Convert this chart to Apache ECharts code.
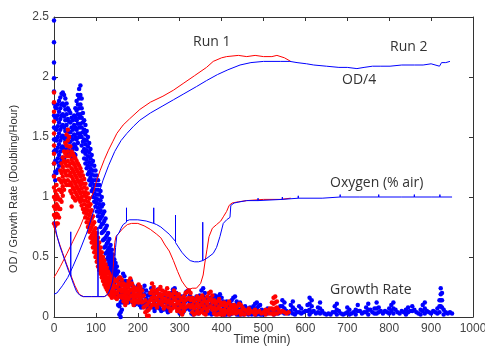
<!DOCTYPE html>
<html><head><meta charset="utf-8">
<script src="https://cdn.jsdelivr.net/npm/echarts@6/dist/echarts.min.js"></script>
<style>html,body{margin:0;padding:0;background:#fff}#c{width:485px;height:347px}</style>
</head><body><div id="c"></div>
<script>
// Axis settings
const xMin = 0, xMax = 1000, xStep = 100;
const yMin = 0, yMax = 2.5, yStep = 0.5;
const xTitle = 'Time (min)';
const yTitle = 'OD / Growth Rate (Doubling/Hour)';
const notes = ['Run 1', 'Run 2', 'OD/4', 'Oxygen (% air)', 'Growth Rate'];

// OD/4 curves [time, value]
const odRun1 = [[0,0.33],[7,0.37],[15,0.42],[31,0.53],[45,0.63],[62,0.75],[75,0.86],[86,0.97],[95,1.05],[102,1.14],[110,1.22],[120,1.31],[130,1.39],[140,1.46],[150,1.53],[165,1.6],[180,1.65],[205,1.73],[230,1.79],[260,1.84],[285,1.89],[310,1.95],[335,2.01],[364,2.08],[380,2.13],[400,2.16],[412,2.17],[440,2.18],[460,2.17],[480,2.18],[500,2.17],[520,2.17],[532,2.18],[550,2.16],[565,2.13]];
const odRun2 = [[0,0.19],[7,0.2],[20,0.26],[33,0.33],[45,0.42],[60,0.54],[78,0.7],[90,0.83],[102,0.97],[110,1.06],[117,1.14],[130,1.26],[145,1.38],[160,1.47],[174,1.53],[190,1.59],[205,1.64],[230,1.7],[260,1.76],[285,1.81],[310,1.86],[340,1.92],[364,1.97],[390,2.02],[415,2.06],[444,2.1],[470,2.12],[500,2.13],[540,2.13],[563,2.13],[580,2.12],[603,2.11],[620,2.1],[650,2.09],[680,2.08],[700,2.08],[723,2.07],[740,2.08],[760,2.09],[780,2.09],[802,2.09],[830,2.1],[860,2.1],[881,2.1],[900,2.11],[920,2.09],[925,2.12],[935,2.12],[945,2.13]];

// Oxygen curves [time, value]
const o2Run1 = [[0,0.75],[10,0.64],[20,0.54],[30,0.44],[40,0.35],[50,0.26],[60,0.19],[70,0.17],[90,0.17],[110,0.17],[120,0.17],[125,0.18],[130,0.2],[135,0.25],[140,0.33],[143,0.5],[145,0.62],[148,0.67],[155,0.7],[165,0.74],[175,0.77],[185,0.78],[200,0.78],[215,0.76],[230,0.73],[245,0.69],[255,0.66],[265,0.6],[275,0.55],[285,0.47],[295,0.38],[305,0.3],[315,0.25],[322,0.23],[330,0.24],[340,0.24],[350,0.28],[356,0.35],[360,0.45],[365,0.56],[370,0.67],[378,0.74],[388,0.77],[398,0.8],[405,0.84],[412,0.88],[418,0.93],[425,0.95],[440,0.96],[460,0.97],[500,0.98],[540,0.98],[565,0.99]];
const o2Run2 = [[0,0.8],[7,0.68],[14,0.59],[20,0.53],[27,0.46],[34,0.39],[40,0.34],[40,0.71],[40,0.34],[47,0.27],[54,0.21],[62,0.18],[70,0.17],[90,0.17],[105,0.17],[105,0.75],[105,0.17],[115,0.17],[120,0.17],[125,0.18],[130,0.2],[135,0.24],[140,0.3],[144,0.42],[147,0.58],[150,0.68],[155,0.7],[160,0.74],[165,0.77],[173,0.79],[173,0.91],[173,0.8],[180,0.81],[200,0.81],[220,0.8],[238,0.78],[238,0.91],[238,0.78],[245,0.77],[255,0.75],[265,0.72],[275,0.69],[290,0.63],[290,0.85],[290,0.62],[305,0.54],[315,0.5],[325,0.47],[335,0.46],[345,0.46],[355,0.47],[355,0.79],[355,0.47],[365,0.49],[380,0.53],[388,0.58],[396,0.67],[404,0.78],[412,0.81],[420,0.83],[422,0.93],[430,0.95],[444,0.96],[460,0.97],[487,0.97],[487,0.99],[487,0.97],[545,0.98],[545,1.0],[545,0.98],[583,0.99],[583,1.01],[583,0.99],[640,0.99],[683,1.0],[683,1.02],[683,1.0],[730,1.0],[775,1.0],[775,1.02],[775,1.0],[830,1.0],[860,1.0],[860,1.02],[860,1.0],[900,1.0],[921,1.0],[921,1.02],[921,1.0],[950,1.0]];

// Growth rate: each row = [time, y1, y2, ...]
const growthRun1 = [
[0,1.87,1.79,1.71,1.63,1.53,1.43,1.36,1.28,1.17,1.08,1.0,0.92,0.85,0.78],
[3,1.05,0.98,0.9,0.83,0.76],[6,1.1,1.02,0.94,0.86,0.78],[9,1.0,0.92,0.85,0.78],[12,1.15,1.06,0.98,0.9,0.83],
[15,1.22,1.14,1.06,0.98,0.9],[18,1.28,1.2,1.12,1.04,0.96],[21,1.33,1.25,1.17,1.09,1.01],[24,1.38,1.3,1.22,1.14,1.06],
[27,1.45,1.36,1.28,1.2,1.12],[30,1.52,1.43,1.34,1.26,1.18,1.1],[33,1.56,1.47,1.38,1.3,1.22,1.14],[36,1.5,1.42,1.34,1.26,1.18,1.1],
[39,1.42,1.35,1.28,1.2,1.12,1.05],[42,1.38,1.31,1.24,1.17,1.1,1.03,0.92],[45,1.36,1.29,1.22,1.15,1.08,1.0],[48,1.34,1.27,1.2,1.13,1.06,0.99],
[51,1.32,1.25,1.18,1.11,1.04,0.97],[54,1.3,1.23,1.16,1.09,1.02],[57,1.28,1.21,1.14,1.07,1.0],[60,1.26,1.19,1.12,1.05,0.98],
[63,1.24,1.17,1.1,1.03,0.96],[66,1.21,1.14,1.07,1.0,0.93],[69,1.18,1.11,1.04,0.97,0.9],[72,1.15,1.08,1.01,0.94,0.87],
[75,1.11,1.04,0.97,0.9,0.83],[78,1.07,1.0,0.93,0.86,0.79],[81,1.03,0.96,0.89,0.82,0.75],[84,0.99,0.92,0.85,0.78,0.71],
[87,0.94,0.87,0.8,0.73,0.66],[90,0.89,0.82,0.75,0.68,0.62],[93,0.84,0.77,0.7,0.64,0.58],[96,0.79,0.72,0.66,0.6,0.54],
[99,0.74,0.68,0.62,0.56,0.5],[102,0.7,0.64,0.58,0.52,0.46],[105,0.66,0.6,0.54,0.48,0.42],[108,0.62,0.56,0.5,0.44,0.39],
[111,0.58,0.52,0.46,0.41,0.36],[114,0.54,0.48,0.43,0.38,0.33],[117,0.5,0.45,0.4,0.35,0.3],[120,0.47,0.42,0.37,0.32,0.27],
[123,0.44,0.39,0.34,0.29,0.25],[126,0.41,0.36,0.31,0.27,0.23],[129,0.38,0.33,0.29,0.25,0.21],[132,0.36,0.31,0.27,0.23,0.19],
[135,0.34,0.3,0.26,0.22,0.18],[138,0.33,0.28,0.24,0.2,0.16],[141,0.32,0.27,0.22,0.18],[144,0.31,0.26,0.21,0.17],
[147,0.3,0.25,0.2,0.16],[150,0.3,0.25,0.2,0.15],[154,0.32,0.27,0.22,0.17],[158,0.33,0.28,0.23,0.18],[162,0.31,0.26,0.21,0.16],
[166,0.28,0.23,0.18,0.13],[170,0.25,0.2,0.15,0.1],[174,0.27,0.22,0.17,0.12],[178,0.3,0.25,0.2,0.15],[182,0.32,0.27,0.22,0.17],
[186,0.28,0.23,0.18,0.13],[190,0.25,0.2,0.15,0.1],[194,0.22,0.17,0.12],[198,0.24,0.19,0.14],[202,0.27,0.22,0.17,0.12],
[206,0.25,0.2,0.15],[210,0.22,0.17,0.12],[214,0.18,0.13,0.08],[218,0.14,0.09,0.04],[222,0.1,0.05,0.01],[226,0.12,0.06,0.01],
[230,0.2,0.14,0.08],[234,0.28,0.22,0.16,0.1],[238,0.25,0.19,0.13],[242,0.22,0.16,0.1],[246,0.2,0.14,0.08],[250,0.23,0.17,0.11],
[254,0.25,0.19,0.13],[258,0.22,0.16,0.1],[262,0.19,0.13,0.07],[266,0.21,0.15,0.09],[270,0.24,0.18,0.12],[274,0.2,0.14,0.08],
[278,0.17,0.11,0.05],[282,0.19,0.13,0.07],[286,0.22,0.16,0.1],[290,0.2,0.14,0.08],[294,0.17,0.11,0.05],[298,0.19,0.13,0.07],
[302,0.16,0.1,0.04],[306,0.14,0.08,0.02],[310,0.17,0.11,0.05],[314,0.2,0.14,0.08],[318,0.21,0.15,0.09],[322,0.22,0.16,0.1],
[326,0.2,0.14,0.08],[330,0.16,0.1,0.04],[334,0.13,0.07,0.02],[338,0.15,0.09,0.03],[342,0.17,0.11,0.05],[346,0.14,0.08,0.03],
[350,0.16,0.1,0.04],[354,0.18,0.12,0.06],[358,0.15,0.09,0.03],[362,0.13,0.07,0.02],[366,0.17,0.11,0.05],[370,0.2,0.14,0.08],
[374,0.21,0.15,0.09],[378,0.18,0.12,0.06],[382,0.14,0.08,0.03],[386,0.11,0.06,0.02],[390,0.13,0.07,0.02],[394,0.15,0.09,0.03],
[398,0.12,0.06,0.02],[402,0.1,0.05,0.02],[406,0.12,0.06,0.02],[410,0.09,0.04],[414,0.11,0.05],[418,0.13,0.07,0.02],
[422,0.1,0.05],[426,0.08,0.03],[430,0.1,0.05],[434,0.07,0.03],[438,0.09,0.04],[442,0.11,0.05],[446,0.1,0.05,0.02],
[450,0.08,0.03],[455,0.06,0.02],[460,0.05],[465,0.07,0.03],[470,0.05],[475,0.04],[480,0.06,0.02],[485,0.04],[490,0.05],
[495,0.03],[500,0.04],[505,0.06,0.02],[510,0.05],[515,0.07,0.03],[520,0.12,0.07,0.03],[524,0.16,0.11,0.06,0.02],
[528,0.17,0.12,0.07,0.03],[532,0.13,0.08,0.03],[536,0.06],[540,0.04],[545,0.05],[550,0.04],[555,0.03],[560,0.04]
];
const growthRun2 = [
[0,2.47,2.29,2.12,1.99,1.88,1.78,1.68,1.58,1.48,1.38,1.28,1.18],
[3,1.75,1.66,1.57,1.48,1.39,1.3,1.21,1.14],[6,1.74,1.65,1.56,1.47,1.38,1.29,1.2],[9,1.77,1.68,1.59,1.5,1.41,1.32,1.23],
[12,1.8,1.71,1.62,1.53,1.44,1.35,1.26],[15,1.83,1.74,1.65,1.56,1.47,1.38,1.29],[18,1.86,1.77,1.68,1.59,1.5,1.41,1.32],
[21,1.87,1.78,1.69,1.6,1.51,1.42,1.33],[24,1.85,1.76,1.67,1.58,1.49,1.4,1.32],[27,1.82,1.73,1.64,1.55,1.46,1.38],
[30,1.78,1.69,1.6,1.51,1.43,1.36],[33,1.74,1.65,1.56,1.48,1.4],[36,1.72,1.63,1.54,1.46,1.38],[39,1.7,1.62,1.54,1.46,1.38],
[42,1.66,1.58,1.5,1.42,1.35],[45,1.64,1.56,1.48,1.4,1.33],[48,1.68,1.6,1.52,1.44,1.36],[51,1.74,1.66,1.58,1.5,1.42,1.35],
[54,1.8,1.72,1.64,1.56,1.48,1.4],[57,1.85,1.77,1.69,1.61,1.53,1.45],[60,1.9,1.82,1.74,1.66,1.58,1.5],[63,1.93,1.85,1.77,1.69,1.61,1.53],
[66,1.82,1.74,1.66,1.58,1.5,1.43],[69,1.7,1.62,1.54,1.46,1.38],[72,1.64,1.56,1.48,1.4,1.32],[75,1.6,1.52,1.44,1.36,1.28],
[78,1.55,1.47,1.39,1.31,1.24],[81,1.5,1.42,1.34,1.26,1.19],[84,1.45,1.37,1.29,1.21,1.14],[87,1.4,1.32,1.24,1.16,1.1],
[90,1.35,1.27,1.19,1.12,1.05],[93,1.3,1.22,1.14,1.07,1.0],[96,1.26,1.18,1.1,1.03,0.96],[99,1.22,1.14,1.06,0.99,0.92],
[102,1.18,1.1,1.02,0.95,0.88],[105,1.14,1.06,0.98,0.91,0.84],[108,1.1,1.02,0.94,0.87,0.8],[111,1.05,0.97,0.89,0.82,0.75],
[114,1.0,0.92,0.84,0.77,0.7],[117,0.94,0.86,0.78,0.71,0.64],[120,0.88,0.8,0.72,0.65,0.58],[123,0.82,0.74,0.66,0.59,0.53],
[126,0.76,0.68,0.61,0.54,0.48],[129,0.7,0.63,0.56,0.5,0.44],[132,0.65,0.58,0.52,0.46,0.4],[135,0.6,0.54,0.48,0.42,0.37],
[138,0.56,0.5,0.44,0.39,0.34],[141,0.52,0.46,0.41,0.36,0.31],[144,0.48,0.43,0.38,0.33,0.28],[147,0.45,0.4,0.35,0.3,0.25],
[150,0.42,0.36,0.3,0.24,0.18],[153,0.38,0.31,0.24,0.17,0.1],[156,0.33,0.25,0.17,0.09,0.02],[159,0.28,0.2,0.12,0.04,0.0],
[162,0.3,0.22,0.14,0.06],[165,0.36,0.28,0.2,0.12],[168,0.34,0.26,0.18],[171,0.3,0.23,0.16],[174,0.28,0.21,0.14],
[177,0.25,0.18,0.12],[180,0.27,0.2,0.13],[184,0.3,0.22,0.15],[188,0.26,0.19,0.12],[192,0.22,0.16,0.1],[196,0.24,0.17,0.11],
[200,0.26,0.19,0.13],[204,0.22,0.16,0.1],[208,0.2,0.14,0.08],[212,0.23,0.17,0.11],[216,0.26,0.19,0.12],[220,0.22,0.15,0.09],
[224,0.18,0.12,0.06],[228,0.2,0.14,0.08],[232,0.24,0.17,0.1],[236,0.2,0.14,0.08],[240,0.17,0.11,0.05],[244,0.2,0.14,0.08],
[248,0.23,0.16,0.1],[252,0.19,0.13,0.07],[256,0.16,0.1,0.05],[260,0.18,0.12,0.06],[264,0.21,0.14,0.08],[268,0.18,0.12,0.06],
[272,0.15,0.09,0.04],[276,0.18,0.12,0.06],[280,0.2,0.14,0.08],[284,0.23,0.16,0.09],[288,0.24,0.17,0.1],[292,0.2,0.14,0.08],
[296,0.16,0.1,0.05],[300,0.14,0.08,0.03],[304,0.17,0.11,0.05],[308,0.15,0.09,0.04],[312,0.18,0.12,0.06],[316,0.21,0.14,0.07],
[320,0.22,0.15,0.08],[324,0.18,0.12,0.06],[328,0.14,0.08,0.03],[332,0.12,0.07,0.02],[336,0.15,0.09,0.04],[340,0.17,0.11,0.05],
[344,0.14,0.08,0.03],[348,0.18,0.12,0.06],[352,0.22,0.15,0.08],[356,0.24,0.17,0.1,0.04],[360,0.2,0.13,0.06],[364,0.16,0.1,0.04],
[368,0.14,0.08,0.03],[372,0.16,0.1,0.04],[376,0.13,0.07,0.02],[380,0.15,0.09,0.03],[384,0.18,0.11,0.05],[388,0.15,0.09,0.03],
[392,0.17,0.11,0.05],[396,0.19,0.12,0.05],[400,0.16,0.1,0.04],[404,0.13,0.07,0.02],[408,0.11,0.06,0.02],[412,0.13,0.07,0.02],
[416,0.1,0.05],[420,0.12,0.06,0.02],[424,0.14,0.08,0.03],[428,0.16,0.1,0.04],[432,0.17,0.1,0.04],[436,0.13,0.07,0.02],
[440,0.1,0.05,0.02],[444,0.12,0.06,0.02],[448,0.08,0.03],[452,0.06,0.02],[456,0.09,0.04],[460,0.07,0.03],[464,0.05,0.02],
[468,0.08,0.03],[472,0.06,0.02],[476,0.09,0.04],[480,0.11,0.06,0.02],[484,0.12,0.07,0.02],[488,0.09,0.04],[492,0.1,0.05,0.02],
[496,0.06,0.02],[500,0.05,0.02],[505,0.04],[510,0.07,0.03],[515,0.05],[520,0.04],[525,0.06,0.02],[530,0.05],[535,0.03],
[540,0.09,0.04],[545,0.14,0.09,0.04],[550,0.12,0.07,0.03],[555,0.05],[560,0.03],[565,0.1,0.05],[570,0.13,0.08,0.03],
[575,0.06,0.02],[580,0.04],[585,0.09,0.04],[590,0.07,0.03],[595,0.04],[600,0.05],[605,0.1,0.05],[610,0.16,0.11,0.06,0.02],
[615,0.14,0.09,0.04],[620,0.05],[625,0.03],[630,0.08,0.04],[635,0.12,0.07,0.03],[640,0.05],[645,0.03],[650,0.02],[655,0.03],
[660,0.02],[665,0.04],[670,0.09,0.04],[675,0.11,0.06,0.02],[680,0.05],[685,0.03],[690,0.02],[695,0.03],[700,0.08,0.04],
[705,0.06,0.02],[710,0.03],[715,0.04],[720,0.06,0.02],[725,0.1,0.05],[730,0.05],[735,0.03],[740,0.04],[745,0.08,0.04],
[750,0.11,0.06,0.02],[755,0.06],[760,0.04],[765,0.07,0.03],[770,0.12,0.07,0.03],[775,0.08,0.04],[780,0.05],[785,0.03],
[790,0.05],[795,0.04],[800,0.07,0.03],[805,0.1,0.05],[810,0.12,0.07,0.03],[815,0.06],[820,0.04],[825,0.03],[830,0.05],
[835,0.04],[840,0.06,0.02],[845,0.08,0.04],[850,0.05],[855,0.09,0.05],[860,0.06],[865,0.04],[870,0.03],[875,0.06,0.02],
[880,0.1,0.05],[885,0.12,0.07,0.03],[890,0.05],[895,0.04],[900,0.03],[905,0.05],[910,0.04],[915,0.07,0.03],
[920,0.14,0.09,0.04],[923,0.24,0.19,0.14,0.09],[926,0.2,0.14,0.08],[930,0.06,0.02],[935,0.04],[940,0.03],[945,0.04],[950,0.03]
];

function flatten(rows){const out=[];rows.forEach(r=>{for(let i=1;i<r.length;i++)out.push([r[0],r[i]]);});return out;}

const RED='#ff0000', BLUE='#0000ff', AX='#333333';
const chart = echarts.init(document.getElementById('c'), null, {renderer:'canvas'});
const axisCommon = {
  axisLine:{show:true,onZero:false,lineStyle:{color:AX,width:1}},
  axisTick:{show:true,inside:true,length:4,lineStyle:{color:AX}},
  splitLine:{show:false}
};
const labelStyle = {color:'#444',fontFamily:'Liberation Sans, Arial, sans-serif',fontSize:12,formatter:v=>String(v)};
const textFont = '"Open Sans", Lato, sans-serif';
function lineSeries(data,color,z){return {type:'line',data,showSymbol:false,symbol:'none',lineStyle:{color,width:1},itemStyle:{color},z,animation:false};}
chart.setOption({
  animation:false,
  grid:{left:54,right:12,top:17,bottom:30,containLabel:false,outerBoundsMode:'none'},
  xAxis:[
    Object.assign({type:'value',min:xMin,max:xMax,interval:xStep,position:'bottom',
      axisLabel:Object.assign({margin:6,showMaxLabel:true,hideOverlap:false},labelStyle)},axisCommon),
    Object.assign({type:'value',min:xMin,max:xMax,interval:xStep,position:'top',axisLabel:{show:false}},axisCommon)
  ],
  yAxis:[
    Object.assign({type:'value',min:yMin,max:yMax,interval:yStep,position:'left',
      axisLabel:Object.assign({margin:5},labelStyle)},axisCommon),
    Object.assign({type:'value',min:yMin,max:yMax,interval:yStep,position:'right',axisLabel:{show:false}},axisCommon)
  ],
  graphic:[
    {type:'text',x:14,y:189,rotation:Math.PI/2,
     style:{text:yTitle,fill:'#333',font:'11px "Liberation Sans", Arial, sans-serif',textAlign:'center',textVerticalAlign:'middle'}},
    {type:'text',x:262,y:340,
     style:{text:xTitle,fill:'#333',font:'12px "Liberation Sans", Arial, sans-serif',textAlign:'center',textVerticalAlign:'middle'}},
    {type:'text',x:193,y:42,style:{text:notes[0],fill:'#333',font:'14px '+textFont,textVerticalAlign:'middle'}},
    {type:'text',x:390,y:47,style:{text:notes[1],fill:'#333',font:'14px '+textFont,textVerticalAlign:'middle'}},
    {type:'text',x:342,y:80,style:{text:notes[2],fill:'#333',font:'14px '+textFont,textVerticalAlign:'middle'}},
    {type:'text',x:330,y:183,style:{text:notes[3],fill:'#333',font:'14px '+textFont,textVerticalAlign:'middle'}},
    {type:'text',x:330,y:290,style:{text:notes[4],fill:'#333',font:'14px '+textFont,textVerticalAlign:'middle'}}
  ],
  series:[
    {type:'scatter',data:flatten(growthRun2),symbolSize:4.5,itemStyle:{color:BLUE,opacity:1},z:2,animation:false},
    {type:'scatter',data:flatten(growthRun1),symbolSize:4.5,itemStyle:{color:RED,opacity:1},z:3,animation:false},
    lineSeries(odRun1,RED,4),
    lineSeries(o2Run1,RED,4),
    lineSeries(odRun2,BLUE,5),
    lineSeries(o2Run2,BLUE,5)
  ]
});
</script></body></html>
